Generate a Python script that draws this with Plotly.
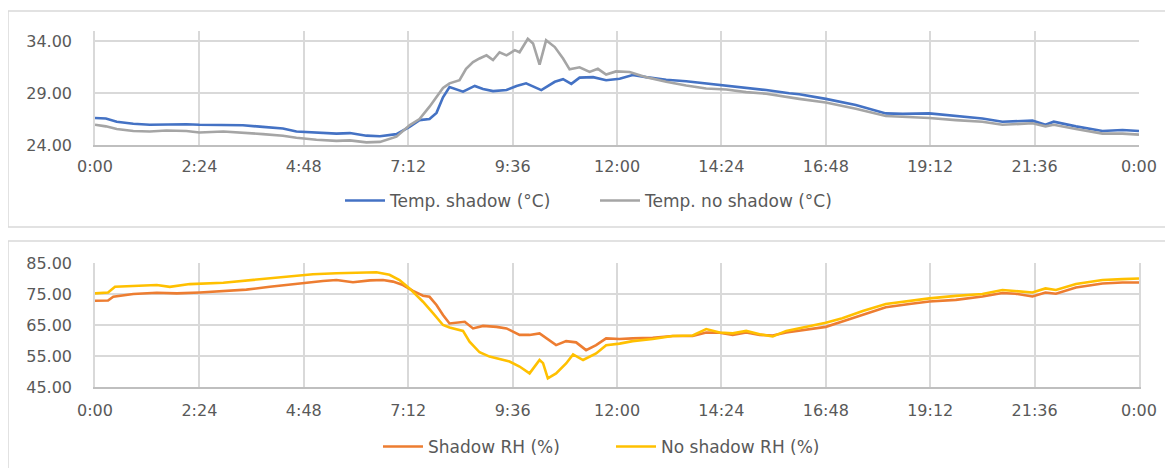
import plotly.graph_objects as go

# ---------------- data ----------------
tick_hours = [0, 2.4, 4.8, 7.2, 9.6, 12.0, 14.4, 16.8, 19.2, 21.6, 24.0]
tick_labels = ["0:00", "2:24", "4:48", "7:12", "9:36", "12:00", "14:24", "16:48", "19:12", "21:36", "0:00"]

temp_shadow_h = [0.0, 0.25, 0.5, 0.88, 1.26, 1.64, 2.1, 2.4, 2.95, 3.4, 3.86, 4.32, 4.63, 5.09, 5.55, 5.86,
                 6.24, 6.55, 6.93, 7.23, 7.46, 7.69, 7.85, 8.0, 8.15, 8.46, 8.73, 8.92, 9.15, 9.46, 9.69, 9.91,
                 10.26, 10.57, 10.76, 10.95, 11.14, 11.45, 11.75, 12.06, 12.36, 12.67, 13.13, 13.59, 14.05,
                 14.51, 14.97, 15.43, 15.96, 16.19, 16.8, 17.49, 18.18, 18.57, 19.18, 19.79, 20.4, 20.86,
                 21.55, 21.85, 22.04, 22.55, 23.16, 23.62, 24.0]
temp_shadow = [26.6, 26.55, 26.25, 26.05, 25.95, 26.0, 26.0, 25.95, 25.95, 25.9, 25.75, 25.6, 25.3, 25.2, 25.1, 25.15,
               24.9, 24.85, 25.05, 25.75, 26.4, 26.5, 27.1, 28.6, 29.6, 29.15, 29.7, 29.4, 29.2, 29.3, 29.7, 29.95,
               29.3, 30.1, 30.35, 29.9, 30.5, 30.55, 30.25, 30.4, 30.75, 30.55, 30.3, 30.15, 29.95,
               29.7, 29.5, 29.3, 29.0, 28.9, 28.45, 27.85, 27.05, 27.0, 27.05, 26.8, 26.55, 26.25,
               26.35, 25.95, 26.25, 25.8, 25.35, 25.45, 25.35]

temp_noshadow_h = [0.0, 0.25, 0.5, 0.88, 1.26, 1.64, 2.1, 2.4, 2.95, 3.4, 3.86, 4.32, 4.63, 5.09, 5.55, 5.86,
                   6.24, 6.55, 6.93, 7.23, 7.46, 7.69, 7.85, 8.0, 8.15, 8.38, 8.53, 8.69, 8.84, 9.0, 9.15, 9.3,
                   9.46, 9.65, 9.76, 9.95, 10.07, 10.22, 10.37, 10.57, 10.76, 10.91, 11.14, 11.37, 11.56, 11.75,
                   11.98, 12.29, 12.67, 13.13, 13.59, 14.05, 14.51, 14.97, 15.43, 15.96, 16.19, 16.8, 17.49,
                   18.18, 18.57, 19.18, 19.79, 20.4, 20.86, 21.55, 21.85, 22.04, 22.55, 23.16, 23.62, 24.0]
temp_noshadow = [25.95, 25.8, 25.55, 25.35, 25.3, 25.4, 25.35, 25.2, 25.3, 25.2, 25.05, 24.9, 24.7, 24.5, 24.4, 24.45,
                 24.25, 24.3, 24.8, 25.9, 26.5, 27.7, 28.65, 29.5, 29.95, 30.25, 31.35, 32.0, 32.35, 32.65, 32.2, 32.95,
                 32.65, 33.15, 32.95, 34.25, 33.8, 31.75, 34.1, 33.45, 32.35, 31.3, 31.5, 31.05, 31.35, 30.8,
                 31.1, 31.05, 30.55, 30.1, 29.75, 29.45, 29.35, 29.1, 28.95, 28.65, 28.45, 28.1, 27.5,
                 26.8, 26.75, 26.6, 26.4, 26.25, 25.95, 26.1, 25.8, 25.95, 25.55, 25.1, 25.1, 25.0]

rh_shadow_h = [0.0, 0.3, 0.42, 0.88, 1.42, 1.88, 2.41, 2.95, 3.48, 4.02, 4.48, 4.71, 5.24, 5.55, 5.93, 6.32, 6.62,
               6.85, 7.08, 7.31, 7.54, 7.69, 7.85, 8.0, 8.15, 8.5, 8.69, 8.92, 9.23, 9.46, 9.76, 9.99, 10.22,
               10.37, 10.6, 10.83, 11.06, 11.29, 11.52, 11.75, 12.06, 12.36, 12.82, 13.28, 13.74, 14.05, 14.36,
               14.66, 14.97, 15.28, 15.58, 15.89, 16.27, 16.8, 17.18, 17.65, 18.18, 18.72, 19.18, 19.79, 20.4,
               20.86, 21.16, 21.55, 21.85, 22.09, 22.55, 23.16, 23.62, 24.0]
rh_shadow = [72.8, 72.9, 74.1, 75.0, 75.4, 75.2, 75.5, 76.0, 76.4, 77.35, 77.9, 78.4, 79.2, 79.5, 78.8, 79.4, 79.5,
             79.0, 77.9, 76.0, 74.45, 74.1, 71.45, 68.2, 65.5, 66.05, 63.9, 64.7, 64.4, 63.9, 61.8, 61.8, 62.3,
             60.7, 58.5, 59.8, 59.4, 56.9, 58.5, 60.7, 60.5, 60.7, 60.9, 61.45, 61.45, 62.6, 62.5,
             61.8, 62.6, 61.8, 61.6, 62.6, 63.4, 64.4, 66.1, 68.2, 70.7, 71.8, 72.6, 73.1, 74.2,
             75.3, 75.1, 74.2, 75.5, 75.1, 77.1, 78.4, 78.7, 78.7]

rh_noshadow_h = [0.0, 0.3, 0.46, 0.88, 1.42, 1.72, 2.18, 2.95, 3.48, 4.02, 4.48, 5.01, 5.55, 6.01, 6.47, 6.77, 7.0,
                 7.23, 7.54, 7.77, 8.0, 8.15, 8.46, 8.61, 8.84, 9.07, 9.3, 9.53, 9.76, 9.99, 10.22, 10.3, 10.41,
                 10.6, 10.83, 10.99, 11.22, 11.52, 11.75, 12.06, 12.36, 12.82, 13.28, 13.74, 14.05, 14.36, 14.66,
                 14.97, 15.28, 15.58, 15.89, 16.27, 16.8, 17.18, 17.65, 18.18, 18.72, 19.18, 19.79, 20.4, 20.86,
                 21.16, 21.55, 21.85, 22.09, 22.55, 23.16, 23.62, 24.0]
rh_noshadow = [75.2, 75.5, 77.35, 77.6, 77.9, 77.3, 78.2, 78.65, 79.3, 80.05, 80.6, 81.35, 81.7, 81.9, 82.0, 81.2, 79.5,
               76.8, 72.5, 68.8, 65.0, 64.2, 63.1, 59.6, 56.2, 54.8, 54.0, 53.2, 51.6, 49.4, 53.7, 52.7, 47.8,
               49.4, 52.6, 55.5, 53.7, 55.8, 58.5, 59.0, 59.8, 60.5, 61.45, 61.6, 63.7, 62.6, 62.3,
               63.1, 62.0, 61.3, 63.1, 64.25, 65.7, 67.2, 69.5, 71.8, 72.85, 73.6, 74.4, 75.0, 76.3,
               76.0, 75.5, 76.8, 76.3, 78.2, 79.5, 79.8, 80.0]

temp_ticks = [24, 29, 34]
rh_ticks = [45, 55, 65, 75, 85]

# ---------------- figure ----------------
# page body has a default 8px margin: the figure is sized and positioned to account for it
OFF = 8
W, H = 1173 - OFF, 468 - OFF
FONT = "DejaVu Sans"
TXT = "#595959"
GRID = "#d9d9d9"


def px_x(p):
    return (p - OFF) / W


def px_y(p):
    return 1 - (p - OFF) / H


fig = go.Figure()
fig.add_trace(go.Scatter(x=temp_shadow_h, y=temp_shadow, mode="lines", name="Temp. shadow (°C)",
                         line=dict(color="#4472C4", width=2.6), xaxis="x", yaxis="y", legend="legend"))
fig.add_trace(go.Scatter(x=temp_noshadow_h, y=temp_noshadow, mode="lines", name="Temp. no shadow (°C)",
                         line=dict(color="#A5A5A5", width=2.6), xaxis="x", yaxis="y", legend="legend"))
fig.add_trace(go.Scatter(x=rh_shadow_h, y=rh_shadow, mode="lines", name="Shadow RH (%)",
                         line=dict(color="#ED7D31", width=2.6), xaxis="x2", yaxis="y2", legend="legend2"))
fig.add_trace(go.Scatter(x=rh_noshadow_h, y=rh_noshadow, mode="lines", name="No shadow RH (%)",
                         line=dict(color="#FFC000", width=2.6), xaxis="x2", yaxis="y2", legend="legend2"))

xdom = [px_x(95), px_x(1139)]
common_x = dict(range=[0, 24], tickvals=tick_hours, ticktext=tick_labels, showgrid=True,
                gridcolor=GRID, gridwidth=1.5, zeroline=False, showline=True, linecolor="#bfbfbf",
                linewidth=1.5, ticks="", automargin=False,
                tickfont=dict(family=FONT, size=16, color=TXT), domain=xdom)
common_y = dict(showgrid=True, gridcolor=GRID, gridwidth=1.5, zeroline=False, showline=True,
                linecolor=GRID, linewidth=1.5, tickformat=".2f", ticks="", ticklabelstandoff=18,
                automargin=False, tickfont=dict(family=FONT, size=16, color=TXT))

leg_common = dict(orientation="h", xanchor="left", yanchor="middle",
                  font=dict(family=FONT, size=17, color=TXT), bgcolor="rgba(0,0,0,0)",
                  itemwidth=40, traceorder="normal", entrywidthmode="pixels")

fig.update_layout(
    width=W, height=H,
    margin=dict(l=0, r=0, t=0, b=0, autoexpand=False),
    paper_bgcolor="white", plot_bgcolor="white",
    font=dict(family=FONT, color=TXT),
    xaxis=dict(**common_x, anchor="y", ticklabelstandoff=6),
    yaxis=dict(**common_y, range=[24, 35], tickvals=temp_ticks,
               domain=[px_y(145), px_y(31)], anchor="x"),
    xaxis2=dict(**common_x, anchor="y2", ticklabelstandoff=8),
    yaxis2=dict(**common_y, range=[45, 85], tickvals=rh_ticks, mirror=True,
                domain=[px_y(387), px_y(263)], anchor="x2"),
    legend=dict(**leg_common, x=px_x(340), y=px_y(201), entrywidth=200),
    legend2=dict(**leg_common, x=px_x(378), y=px_y(447), entrywidth=178),
    showlegend=True,
    shapes=[
        dict(type="rect", xref="paper", yref="paper", x0=px_x(8), x1=1.02, y0=px_y(227), y1=px_y(11),
             line=dict(color=GRID, width=1.5), fillcolor="rgba(0,0,0,0)", layer="below"),
        dict(type="rect", xref="paper", yref="paper", x0=px_x(8), x1=1.02, y0=-0.05, y1=px_y(241),
             line=dict(color=GRID, width=1.5), fillcolor="rgba(0,0,0,0)", layer="below"),
    ],
)

fig.write_html("out.html")
